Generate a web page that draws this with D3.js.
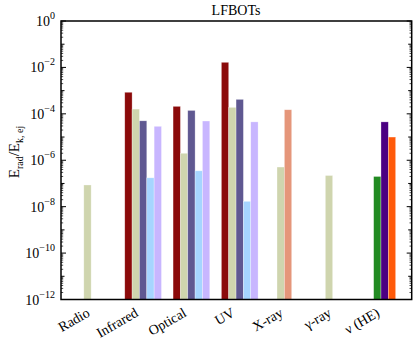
<!DOCTYPE html>
<html><head><meta charset="utf-8">
<script src="https://cdn.jsdelivr.net/npm/d3@7"></script>
<style>body{margin:0;background:#fff}svg{display:block}text{font-family:"Liberation Serif","DejaVu Serif",serif}</style>
</head><body><svg id="c" width="416" height="341"></svg>
<script>
const categories = ["Radio","Infrared","Optical","UV","X-ray","\u03B3-ray","\u03BD (HE)"];
const slots = [0,1,2,3,4];
// each series: name, slot within group, colour, values per category (null = none)
const seriesNames = ["darkred","khaki","slate","lightblue","lavender","salmon","green","indigo","orange"];
const seriesSlots = [0,1,2,3,4,2,1,2,3];
const seriesColors = ["#8b0a0a","#cfd5ae","#5f5891","#a6d5ff","#c8b6ff","#e5967a","#228b22","#4b0082","#ff5a0a"];
const valDarkRed   = [null, 8.5e-4, 2.1e-4, 1.66e-2, null, null, null];
const valKhaki     = [8.6e-8, 1.6e-4, 2.0e-6, 1.9e-4, 5.1e-7, 2.2e-7, null];
const valSlate     = [null, 5.0e-5, 1.4e-4, 4.2e-4, null, null, null];
const valLightBlue = [null, 1.75e-7, 3.5e-7, 1.7e-8, null, null, null];
const valLavender  = [null, 2.9e-5, 4.9e-5, 4.5e-5, null, null, null];
const valSalmon    = [null, null, null, null, 1.5e-4, null, null];
const valGreen     = [null, null, null, null, null, null, 2.0e-7];
const valIndigo    = [null, null, null, null, null, null, 4.5e-5];
const valOrange    = [null, null, null, null, null, null, 1.0e-5];
const seriesValues = [valDarkRed,valKhaki,valSlate,valLightBlue,valLavender,valSalmon,valGreen,valIndigo,valOrange];
const yTickExps = [0,-2,-4,-6,-8,-10,-12];

const svg = d3.select("#c");
const L=61, R=411.7, T=21, B=299.5;
const x = d3.scaleBand().domain(categories).range([L,R]).paddingInner(0.24).paddingOuter(0.25).align(0.64);
const xs = d3.scaleBand().domain(slots).range([0,x.bandwidth()]).padding(0);
const y = d3.scaleLog().domain([1e-12,1]).range([B,T]);

// bars
const bars = [];
seriesValues.forEach((vals,si)=>vals.forEach((v,ci)=>{ if(v!=null) bars.push({c:categories[ci],s:si,v}); }));
svg.append("g").selectAll("rect").data(bars).join("rect")
  .attr("x",d=>x(d.c)+xs(seriesSlots[d.s]))
  .attr("width",xs.bandwidth())
  .attr("y",d=>y(d.v))
  .attr("height",d=>B-y(d.v))
  .attr("fill",d=>seriesColors[d.s])
  .attr("stroke","#fff").attr("stroke-opacity",0.5).attr("stroke-width",0.6);

// minor & major ticks left/right
const tickG = svg.append("g").attr("stroke","#000");
const minor=[];
for(let e=-12;e<0;e++){ for(let k=2;k<=9;k++) minor.push(k*Math.pow(10,e)); }
const majors=d3.range(-12,1).map(e=>Math.pow(10,e));
[[L,1],[R,-1]].forEach(([x0,dir])=>{
  minor.forEach(v=>tickG.append("line").attr("x1",x0).attr("x2",x0+dir*2.2).attr("y1",y(v)).attr("y2",y(v)).attr("stroke-width",0.7));
  majors.forEach((v,i)=>{const e=Math.round(Math.log10(v)); const len=(e%2===0)?5:3.5;
    tickG.append("line").attr("x1",x0).attr("x2",x0+dir*len).attr("y1",y(v)).attr("y2",y(v)).attr("stroke-width",1);});
});

// frame
svg.append("rect").attr("x",L).attr("y",T).attr("width",R-L).attr("height",B-T)
  .attr("fill","none").attr("stroke","#000").attr("stroke-width",1.5);

// y tick labels
const yl = svg.append("g");
yTickExps.forEach(e=>{
  const t = yl.append("text").attr("x",L-6).attr("y",y(Math.pow(10,e))+5).attr("text-anchor","end").attr("font-size",14);
  t.append("tspan").text("10");
  t.append("tspan").attr("dy",-7).attr("font-size",10).text(e===0?"0":"\u2212"+(-e));
});

// x labels
svg.append("g").selectAll("text").data(categories).join("text")
  .attr("transform",d=>`translate(${x(d)+x.bandwidth()/2-4},${B+16}) rotate(-30)`)
  .attr("text-anchor","end").attr("font-size",14)
  .text(d=>d);

// title
svg.append("text").attr("x",236).attr("y",15).attr("text-anchor","middle").attr("font-size",14).text("LFBOTs");

// y label
const ylab = svg.append("text").attr("transform",`translate(19,152) rotate(-90)`).attr("text-anchor","middle").attr("font-size",15);
ylab.append("tspan").text("E");
ylab.append("tspan").attr("font-size",10).attr("dy",4).text("rad");
ylab.append("tspan").attr("dy",-4).text("/E");
ylab.append("tspan").attr("font-size",10).attr("dy",4).text("k, ej");
</script></body></html>
